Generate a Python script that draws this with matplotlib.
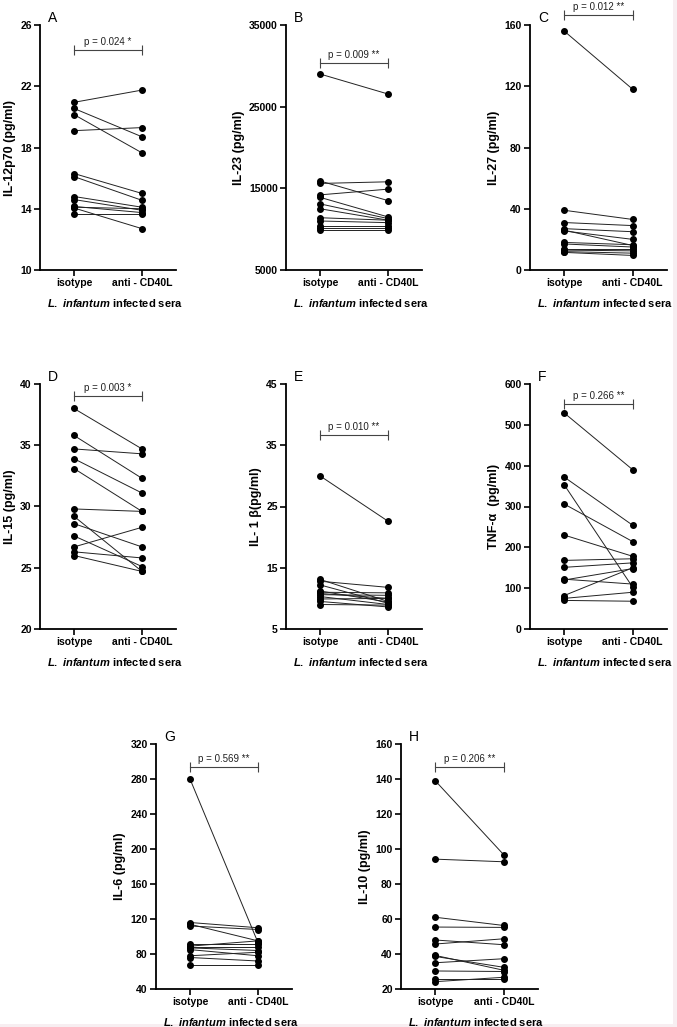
import numpy as np
import matplotlib.pyplot as plt
from matplotlib.patches import Rectangle

plt.rcParams['font.family'] = ['Liberation Sans', 'DejaVu Sans']
plt.rcParams['mathtext.fontset'] = 'custom'
plt.rcParams['mathtext.rm'] = 'Liberation Sans:bold'
plt.rcParams['mathtext.bf'] = 'Liberation Sans:bold'
plt.rcParams['mathtext.it'] = 'Liberation Sans:italic:bold'

groups = ['isotype', 'anti - CD40L']
xlab = r'$\it{L.\ infantum}$ infected sera'

# panel data: isotype / anti-CD40L pairs
il12_iso = [20.95, 20.55, 20.15, 19.1, 16.3, 16.1, 14.8, 14.6, 14.15, 14.05, 13.65, 14.1]
il12_anti = [21.75, 18.7, 17.65, 19.3, 15.0, 14.55, 14.1, 13.9, 13.75, 12.7, 13.65, 14.0]

il23_iso = [29000, 15900, 15600, 14200, 13900, 13100, 12500, 11400, 11000, 10400, 10100, 9900]
il23_anti = [26550, 13500, 15800, 14900, 11500, 11300, 11100, 11100, 10800, 10400, 10100, 9900]

il27_iso = [156, 39, 31, 27, 25.5, 18, 17, 14, 13, 12, 11.5, 26]
il27_anti = [118, 33, 29, 25, 20, 16.5, 15, 14, 12.5, 11, 9.5, 16]

il15_iso = [38.0, 35.8, 34.7, 33.9, 33.1, 29.8, 29.2, 28.6, 27.6, 26.7, 26.3, 26.0]
il15_anti = [34.7, 32.3, 34.3, 31.1, 29.6, 29.6, 24.7, 26.7, 25.1, 28.3, 25.8, 24.7]

il1b_iso = [30.0, 13.1, 12.8, 12.2, 11.0, 10.6, 10.3, 9.9, 9.5, 9.0, 10.8, 11.2]
il1b_anti = [22.6, 9.5, 11.8, 9.2, 10.9, 10.5, 9.0, 10.0, 8.6, 8.9, 10.0, 9.4]

tnf_iso = [529, 372, 353, 306, 230, 168, 151, 122, 120, 82, 75, 70]
tnf_anti = [390, 254, 102, 214, 178, 172, 162, 110, 148, 150, 90, 68]

il6_iso = [280, 116, 114, 112, 91, 89, 87, 85, 78, 76, 67, 88]
il6_anti = [93, 110, 95, 108, 91, 95, 84, 78, 82, 72, 67, 88]

il10_iso = [139, 94.2, 61, 55.4, 48, 45.7, 39.2, 38.6, 35, 30.3, 26, 24.2]
il10_anti = [96.7, 92.7, 56.3, 55.2, 45.3, 48.7, 30.7, 32.4, 37.3, 30, 26, 26.7]

letters = ['A', 'B', 'C', 'D', 'E', 'F', 'G', 'H']
ylabels = ['IL-12p70 (pg/ml)', 'IL-23 (pg/ml)', 'IL-27 (pg/ml)', 'IL-15 (pg/ml)',
           'IL- 1 \u03b2(pg/ml)', 'TNF-\u03b1  (pg/ml)', 'IL-6 (pg/ml)', 'IL-10 (pg/ml)']
pvals = ['p = 0.024 *', 'p = 0.009 **', 'p = 0.012 **', 'p = 0.003 *',
         'p = 0.010 **', 'p = 0.266 **', 'p = 0.569 **', 'p = 0.206 **']
yticks = [[10, 14, 18, 22, 26], [5000, 15000, 25000, 35000], [0, 40, 80, 120, 160],
          [20, 25, 30, 35, 40], [5, 15, 25, 35, 45], [0, 100, 200, 300, 400, 500, 600],
          [40, 80, 120, 160, 200, 240, 280, 320], [20, 40, 60, 80, 100, 120, 140, 160]]
bracket_y = [24.37, 30400, 166.5, 39.05, 36.7, 551, 294, 147]
isos = [il12_iso, il23_iso, il27_iso, il15_iso, il1b_iso, tnf_iso, il6_iso, il10_iso]
antis = [il12_anti, il23_anti, il27_anti, il15_anti, il1b_anti, tnf_anti, il6_anti, il10_anti]

W, H = 677, 1027
boxes = [(40, 25, 176, 270), (286, 25, 422, 270), (530, 25, 667, 270),
         (40, 384, 176, 629), (286, 384, 422, 629), (530, 384, 667, 629),
         (156, 744, 292, 989), (401, 744, 538, 989)]

fig = plt.figure(figsize=(W / 100, H / 100), dpi=100)
fig.patch.set_facecolor('white')
# faint border of the original image
fig.add_artist(Rectangle((1 - 4 / W, 0), 4 / W, 1, transform=fig.transFigure,
                         color='#f7eef1', lw=0, zorder=-1))
fig.add_artist(Rectangle((0, 0), 1, 3 / H, transform=fig.transFigure,
                         color='#f7eef1', lw=0, zorder=-1))

for i, (l, t, r, b) in enumerate(boxes):
    ax = fig.add_axes([l / W, 1 - b / H, (r - l) / W, (b - t) / H])
    ax.patch.set_alpha(0)
    x = [0, 1]
    for a, c in zip(isos[i], antis[i]):
        ax.plot(x, [a, c], color='#222222', lw=0.7, marker='o', ms=4,
                mfc='black', mec='black', clip_on=False, zorder=3)
    yt = yticks[i]
    ax.set_ylim(yt[0], yt[-1])
    ax.set_yticks(yt)
    ax.set_xlim(-0.5, 1.5)
    ax.set_xticks(x)
    ax.set_xticklabels(groups)
    for s in ['top', 'right']:
        ax.spines[s].set_visible(False)
    for s in ['left', 'bottom']:
        ax.spines[s].set_linewidth(1.3)
    ax.tick_params(width=1.2, length=4, labelsize=7.5, pad=2)
    for lab in ax.get_xticklabels() + ax.get_yticklabels():
        lab.set_fontweight('bold')
    ax.set_ylabel(ylabels[i], fontsize=9, fontweight='bold', labelpad=3)
    ax.set_xlabel(xlab, fontsize=8, fontweight='bold')
    ax.xaxis.set_label_coords(0.55, -0.11)
    ax.text(0.06, 1.03, letters[i], transform=ax.transAxes, fontsize=10,
            ha='left', va='center')
    # significance bracket
    by = bracket_y[i]
    ax.plot(x, [by, by], color='#444444', lw=0.8, marker='|', ms=7,
            mew=0.8, clip_on=False)
    yr = yt[-1] - yt[0]
    ax.text(0.5, by + yr * 0.012, pvals[i], ha='center', va='bottom',
            fontsize=7, color='#222222', clip_on=False)

fig.savefig('out.png', dpi=100, facecolor=fig.get_facecolor())
